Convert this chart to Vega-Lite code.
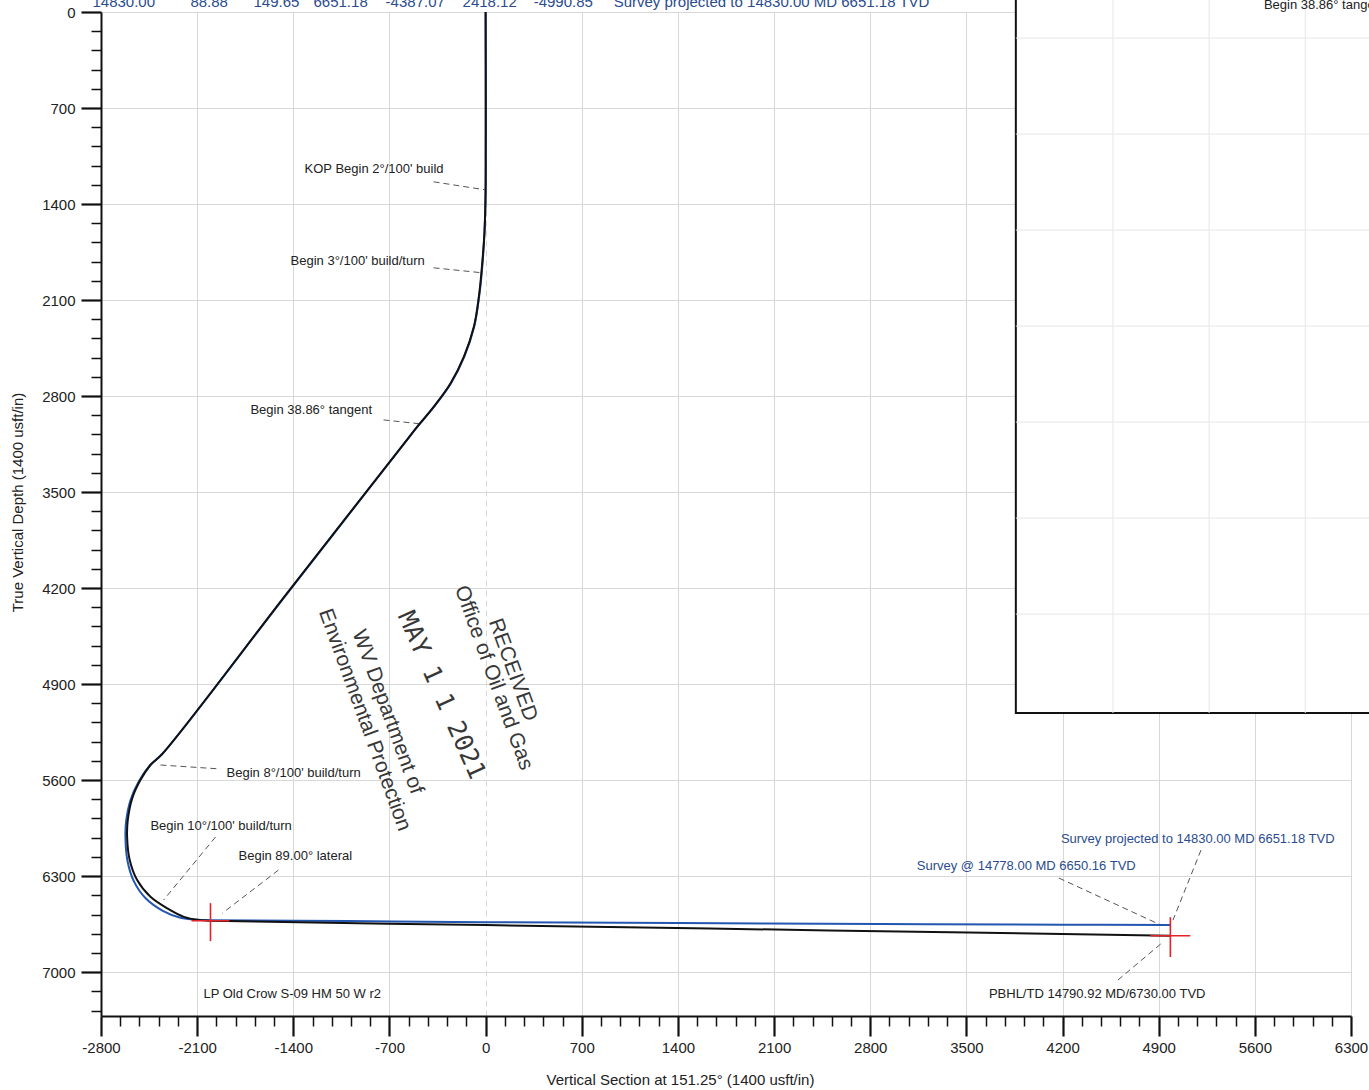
{
  "$schema": "https://vega.github.io/schema/vega-lite/v6.json",
  "width": 1250,
  "height": 1004,
  "autosize": {"type": "none"},
  "padding": {"left": 101, "top": 12, "right": 18, "bottom": 74},
  "background": "white",
  "config": {"view": {"stroke": null}, "font": "Liberation Sans"},
  "datasets": {
    "plan": [
      {"i": 0, "x": 0, "y": 0}, {"i": 1, "x": 0, "y": 931}, {"i": 2, "x": 0, "y": 1296},
      {"i": 3, "x": -8, "y": 1600}, {"i": 4, "x": -31, "y": 1904}, {"i": 5, "x": -49, "y": 2074},
      {"i": 6, "x": -85, "y": 2293}, {"i": 7, "x": -158, "y": 2512}, {"i": 8, "x": -255, "y": 2706},
      {"i": 9, "x": -377, "y": 2877}, {"i": 10, "x": -497, "y": 3023}, {"i": 11, "x": -554, "y": 3096},
      {"i": 12, "x": -1448, "y": 4240}, {"i": 13, "x": -2350, "y": 5405}, {"i": 14, "x": -2440, "y": 5490},
      {"i": 15, "x": -2513, "y": 5600}, {"i": 16, "x": -2573, "y": 5733}, {"i": 17, "x": -2605, "y": 5891},
      {"i": 18, "x": -2610, "y": 6013}, {"i": 19, "x": -2591, "y": 6183}, {"i": 20, "x": -2537, "y": 6329},
      {"i": 21, "x": -2440, "y": 6451}, {"i": 22, "x": -2318, "y": 6535}, {"i": 23, "x": -2197, "y": 6597},
      {"i": 24, "x": -2076, "y": 6621}, {"i": 25, "x": -2003, "y": 6626}, {"i": 26, "x": 0, "y": 6657},
      {"i": 27, "x": 2500, "y": 6696}, {"i": 28, "x": 4985, "y": 6735}
    ],
    "survey": [
      {"i": 0, "x": 0, "y": 0}, {"i": 1, "x": 3, "y": 700}, {"i": 2, "x": 0, "y": 1300},
      {"i": 3, "x": -8, "y": 1600}, {"i": 4, "x": -28, "y": 1900}, {"i": 5, "x": -47, "y": 2074},
      {"i": 6, "x": -83, "y": 2293}, {"i": 7, "x": -155, "y": 2512}, {"i": 8, "x": -252, "y": 2706},
      {"i": 9, "x": -375, "y": 2877}, {"i": 10, "x": -497, "y": 3023}, {"i": 11, "x": -554, "y": 3096},
      {"i": 12, "x": -1445, "y": 4240}, {"i": 13, "x": -2355, "y": 5410}, {"i": 14, "x": -2450, "y": 5500},
      {"i": 15, "x": -2525, "y": 5610}, {"i": 16, "x": -2585, "y": 5745}, {"i": 17, "x": -2617, "y": 5900},
      {"i": 18, "x": -2622, "y": 6020}, {"i": 19, "x": -2607, "y": 6190}, {"i": 20, "x": -2562, "y": 6335},
      {"i": 21, "x": -2475, "y": 6462}, {"i": 22, "x": -2350, "y": 6553}, {"i": 23, "x": -2222, "y": 6603},
      {"i": 24, "x": -2100, "y": 6618}, {"i": 25, "x": -2000, "y": 6621}, {"i": 26, "x": -1000, "y": 6628},
      {"i": 27, "x": 0, "y": 6636}, {"i": 28, "x": 1400, "y": 6642}, {"i": 29, "x": 2870, "y": 6650},
      {"i": 30, "x": 4200, "y": 6654}, {"i": 31, "x": 4985, "y": 6656}
    ],
    "crosses": [
      {"x": -2003, "x2": -2003, "y": 6497, "y2": 6774},
      {"x": -2141, "x2": -1865, "y": 6626, "y2": 6626},
      {"x": 4985, "x2": 4985, "y": 6600, "y2": 6890},
      {"x": 4839, "x2": 5130, "y": 6735, "y2": 6735}
    ],
    "leaders": [
      {"x": -379, "y": 1238, "x2": -7, "y2": 1296},
      {"x": -379, "y": 1865, "x2": -29, "y2": 1901},
      {"x": -743, "y": 2974, "x2": -473, "y2": 3003},
      {"x": -2367, "y": 5490, "x2": -1930, "y2": 5519},
      {"x": -1966, "y": 6015, "x2": -2345, "y2": 6475},
      {"x": -1508, "y": 6256, "x2": -1916, "y2": 6570},
      {"x": 5208, "y": 6110, "x2": 5004, "y2": 6621},
      {"x": 4173, "y": 6314, "x2": 4916, "y2": 6657},
      {"x": 4603, "y": 7058, "x2": 4931, "y2": 6781}
    ],
    "labels": [
      {"x": -1318, "y": 1143, "text": "KOP Begin 2°/100' build", "kind": "plan"},
      {"x": -1420, "y": 1814, "text": "Begin 3°/100' build/turn", "kind": "plan"},
      {"x": -1712, "y": 2901, "text": "Begin 38.86° tangent", "kind": "plan"},
      {"x": -1886, "y": 5549, "text": "Begin 8°/100' build/turn", "kind": "plan"},
      {"x": -2440, "y": 5935, "text": "Begin 10°/100' build/turn", "kind": "plan"},
      {"x": -1799, "y": 6154, "text": "Begin 89.00° lateral", "kind": "plan"},
      {"x": -2054, "y": 7160, "text": "LP Old Crow S-09 HM 50 W r2", "kind": "plan"},
      {"x": 4188, "y": 6030, "text": "Survey projected to 14830.00 MD 6651.18 TVD", "kind": "survey"},
      {"x": 3139, "y": 6227, "text": "Survey @ 14778.00 MD 6650.16 TVD", "kind": "survey"},
      {"x": 3664, "y": 7160, "text": "PBHL/TD 14790.92 MD/6730.00 TVD", "kind": "plan"},
      {"x": 5666, "y": -53, "text": "Begin 38.86° tangent", "kind": "plan"}
    ],
    "toprow": [
      {"x": -2862, "y": -40, "text": "14830.00"},
      {"x": -2149, "y": -40, "text": "88.88"},
      {"x": -1690, "y": -40, "text": "149.65"},
      {"x": -1253, "y": -40, "text": "6651.18"},
      {"x": -728, "y": -40, "text": "-4387.07"},
      {"x": -168, "y": -40, "text": "2418.12"},
      {"x": 350, "y": -40, "text": "-4990.85"},
      {"x": 932, "y": -40, "text": "Survey projected to 14830.00 MD 6651.18 TVD"}
    ],
    "inset": [{"x": 3860, "x2": 7300, "y": -400, "y2": 5111}],
    "insetgrid": [
      {"x": 4567, "x2": 4567, "y": -400, "y2": 5111},
      {"x": 5267, "x2": 5267, "y": -400, "y2": 5111},
      {"x": 5967, "x2": 5967, "y": -400, "y2": 5111},
      {"x": 3860, "x2": 7300, "y": 190, "y2": 190},
      {"x": 3860, "x2": 7300, "y": 890, "y2": 890},
      {"x": 3860, "x2": 7300, "y": 1590, "y2": 1590},
      {"x": 3860, "x2": 7300, "y": 2290, "y2": 2290},
      {"x": 3860, "x2": 7300, "y": 2990, "y2": 2990},
      {"x": 3860, "x2": 7300, "y": 3690, "y2": 3690},
      {"x": 3860, "x2": 7300, "y": 4390, "y2": 4390}
    ],
    "stamp": [
      {"x": 197, "y": 4797, "text": "RECEIVED"},
      {"x": 58, "y": 4855, "text": "Office of Oil and Gas"},
      {"x": -714, "y": 5103, "text": "WV Department of"},
      {"x": -881, "y": 5162, "text": "Environmental Protection"}
    ],
    "stampdate": [
      {"x": -320, "y": 4979, "text": "MAY 1 1 2021"}
    ]
  },
  "encoding": {
    "x": {
      "field": "x", "type": "quantitative",
      "scale": {"domain": [-2800, 6300], "nice": false, "zero": false},
      "axis": {
        "values": [-2800,-2660,-2520,-2380,-2240,-2100,-1960,-1820,-1680,-1540,-1400,-1260,-1120,-980,-840,-700,-560,-420,-280,-140,0,140,280,420,560,700,840,980,1120,1260,1400,1540,1680,1820,1960,2100,2240,2380,2520,2660,2800,2940,3080,3220,3360,3500,3640,3780,3920,4060,4200,4340,4480,4620,4760,4900,5040,5180,5320,5460,5600,5740,5880,6020,6160,6300],
        "labelExpr": "datum.value % 700 === 0 ? '' + datum.value : ''",
        "labelOverlap": false,
        "labelFlush": false,
        "labelFontSize": 15,
        "labelColor": "#222",
        "labelPadding": 4,
        "tickSize": {"condition": {"test": "datum.value % 700 === 0", "value": 20}, "value": 10},
        "tickWidth": {"condition": {"test": "datum.value % 700 === 0", "value": 2.2}, "value": 1.5},
        "tickColor": "#111",
        "domainColor": "#111",
        "domainWidth": 2,
        "grid": true,
        "gridColor": "#d8d8d8",
        "gridWidth": 1,
        "gridOpacity": {"condition": {"test": "datum.value % 700 === 0", "value": 1}, "value": 0},
        "gridDash": {"condition": {"test": "datum.value === 0", "value": [6, 4]}, "value": []},
        "title": "Vertical Section at 151.25° (1400 usft/in)",
        "titleFontSize": 15,
        "titleFontWeight": "normal",
        "titleColor": "#222",
        "titleX": 579,
        "titleY": 63,
        "titleBaseline": "middle",
        "titleAlign": "center"
      }
    },
    "y": {
      "field": "y", "type": "quantitative",
      "scale": {"domain": [0, 7320], "nice": false, "zero": false, "reverse": true},
      "axis": {
        "values": [0,140,280,420,560,700,840,980,1120,1260,1400,1540,1680,1820,1960,2100,2240,2380,2520,2660,2800,2940,3080,3220,3360,3500,3640,3780,3920,4060,4200,4340,4480,4620,4760,4900,5040,5180,5320,5460,5600,5740,5880,6020,6160,6300,6440,6580,6720,6860,7000,7140,7280],
        "labelExpr": "datum.value % 700 === 0 ? '' + datum.value : ''",
        "labelOverlap": false,
        "labelFlush": false,
        "labelFontSize": 15,
        "labelColor": "#222",
        "labelPadding": 6,
        "tickSize": {"condition": {"test": "datum.value % 700 === 0", "value": 20}, "value": 10},
        "tickWidth": {"condition": {"test": "datum.value % 700 === 0", "value": 2.2}, "value": 1.5},
        "tickColor": "#111",
        "domainColor": "#111",
        "domainWidth": 2,
        "grid": true,
        "gridColor": "#d8d8d8",
        "gridWidth": 1,
        "gridOpacity": {"condition": {"test": "datum.value % 700 === 0", "value": 1}, "value": 0},
        "title": "True Vertical Depth (1400 usft/in)",
        "titleFontSize": 15,
        "titleFontWeight": "normal",
        "titleColor": "#222",
        "titleX": -84,
        "titleY": 490,
        "titleAngle": -90,
        "titleBaseline": "middle",
        "titleAlign": "center"
      }
    }
  },
  "layer": [
    {
      "data": {"name": "inset"},
      "mark": {"type": "rect", "fill": "white", "stroke": "#111", "strokeWidth": 2},
      "encoding": {"x2": {"field": "x2"}, "y2": {"field": "y2"}}
    },
    {
      "data": {"name": "insetgrid"},
      "mark": {"type": "rule", "stroke": "#e6e6e6", "strokeWidth": 1},
      "encoding": {"x2": {"field": "x2"}, "y2": {"field": "y2"}}
    },
    {
      "data": {"name": "toprow"},
      "mark": {"type": "text", "align": "left", "baseline": "alphabetic", "fontSize": 15, "color": "#2a4c8e"},
      "encoding": {"text": {"field": "text"}}
    },
    {
      "data": {"name": "leaders"},
      "mark": {"type": "rule", "stroke": "#555", "strokeWidth": 1, "strokeDash": [6, 4]},
      "encoding": {"x2": {"field": "x2"}, "y2": {"field": "y2"}}
    },
    {
      "data": {"name": "survey"},
      "mark": {"type": "line", "stroke": "#2356b0", "strokeWidth": 2, "interpolate": "catmull-rom"},
      "encoding": {"order": {"field": "i", "type": "quantitative"}}
    },
    {
      "data": {"name": "plan"},
      "mark": {"type": "line", "stroke": "#111111", "strokeWidth": 2, "interpolate": "catmull-rom"},
      "encoding": {"order": {"field": "i", "type": "quantitative"}}
    },
    {
      "data": {"name": "crosses"},
      "mark": {"type": "rule", "stroke": "#e42229", "strokeWidth": 1.6},
      "encoding": {"x2": {"field": "x2"}, "y2": {"field": "y2"}}
    },
    {
      "data": {"name": "labels"},
      "mark": {"type": "text", "align": "left", "baseline": "middle", "fontSize": 13},
      "encoding": {
        "text": {"field": "text"},
        "color": {"field": "kind", "type": "nominal", "scale": {"domain": ["plan", "survey"], "range": ["#222222", "#2a4c8e"]}, "legend": null}
      }
    },
    {
      "data": {"name": "stamp"},
      "mark": {"type": "text", "align": "center", "baseline": "middle", "fontSize": 21, "angle": 70, "color": "#383838"},
      "encoding": {"text": {"field": "text"}}
    },
    {
      "data": {"name": "stampdate"},
      "mark": {"type": "text", "align": "center", "baseline": "middle", "fontSize": 25, "angle": 66, "color": "#383838", "font": "DejaVu Sans Mono"},
      "encoding": {"text": {"field": "text"}}
    }
  ]
}
